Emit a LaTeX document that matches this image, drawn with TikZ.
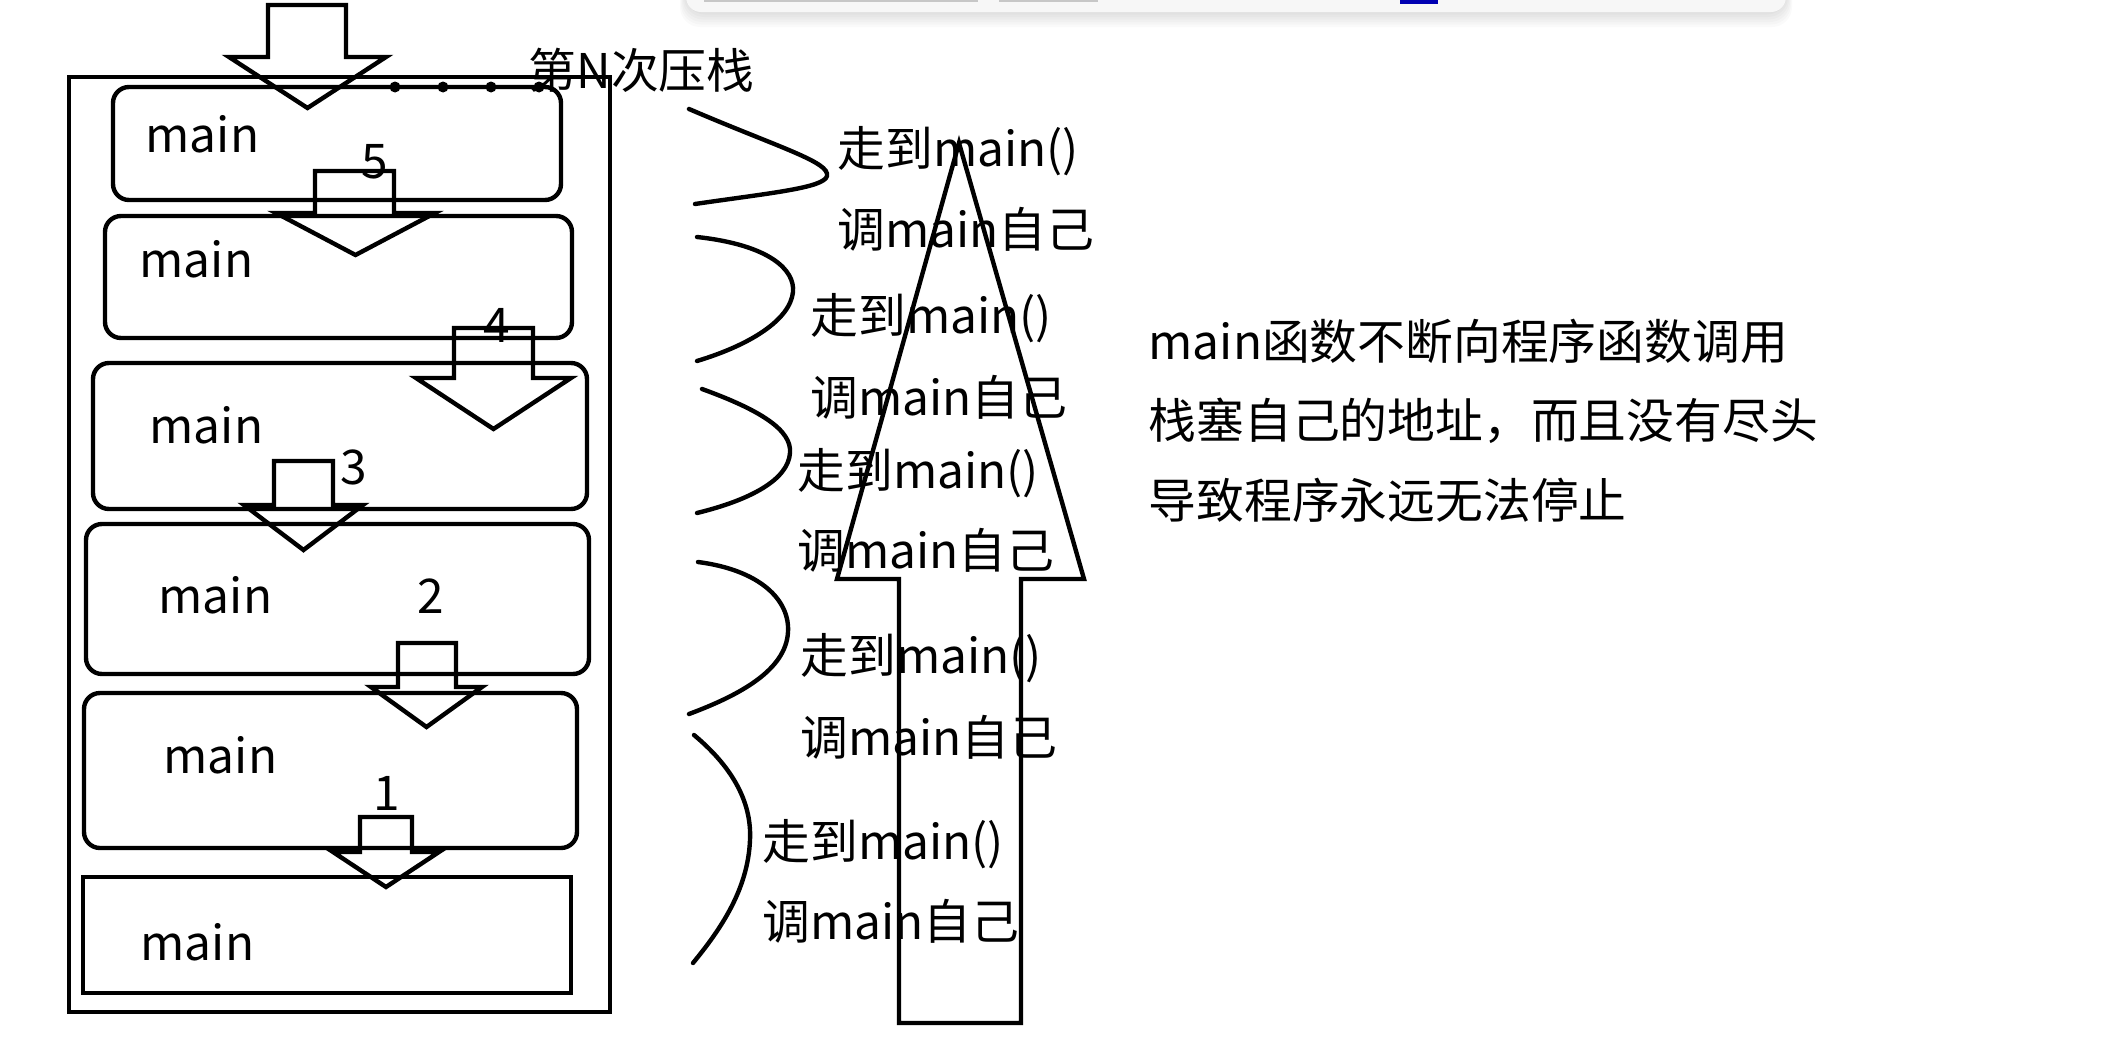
\documentclass[tikz,border=0pt]{standalone}
\usepackage{fontspec}
\newfontfamily\cjk{Noto Sans CJK SC}
\usetikzlibrary{positioning,fit}

\begin{document}
\begin{tikzpicture}[x=0.1mm, y=-0.1mm,
  every node/.style={font=\cjk\fontsize{13.6}{16}\selectfont, inner sep=0pt},
  outerbox/.style={draw, line width=1.25pt, inner sep=0pt},
  stackbox/.style={outerbox, rounded corners=1.6mm},
  blk/.style={draw, line width=1.25pt, line join=miter},
  bow/.style={draw, line width=1.25pt, line cap=round},
  lbl/.style={anchor=base west},
  num/.style={anchor=base}
]
\useasboundingbox (0,0) rectangle (2122,1044);
\fill[white] (0,0) rectangle (2122,1044);

%% --- Window bar at the top edge ------------------------------
\foreach \i in {1,...,6}
  \fill[black, opacity=0.018, rounded corners=2mm]
       (686-\i,-30) rectangle (1786+\i,12+2.5*\i);
\fill[black!3, rounded corners=1.5mm] (686,-30) rectangle (1786,12);
\fill[black!22] (704,0) rectangle (978,2.5);
\fill[black!22] (999,0) rectangle (1098,2.5);
\fill[blue!70!black] (1400,0) rectangle (1438,3.5);

%% --- Stack frame and the six main frames ---------------------
\node[outerbox, fit={(69,77) (610,1012)}] (stack) {};
\node[stackbox, fit={(113,87) (561,200)}]  (b5) {};
\node[stackbox, fit={(105,216) (572,338)}] (b4) {};
\node[stackbox, fit={(93,363) (587,509)}]  (b3) {};
\node[stackbox, fit={(86,524) (589,674)}]  (b2) {};
\node[stackbox, fit={(84,693) (577,848)}]  (b1) {};
\node[outerbox, fit={(83,877) (571,993)}]  (b0) {};

\node[lbl] (m5) at (145,152) {main};
\node[lbl] (m4) at (139,277) {main};
\node[lbl] (m3) at (149,443) {main};
\node[lbl] (m2) at (158,613) {main};
\node[lbl] (m1) at (163,773) {main};
\node[lbl] (m0) at (140,960) {main};

%% --- Push arrows between the frames --------------------------
% stem left/right, head left/right, stem top, shoulder, tip
\foreach \sl/\sr/\hl/\hr/\st/\sh/\tp in {
    268/346/229/386/5/57/108,
    315/394/276/435/171/213/255,
    454/533/416/571/328/378/429,
    274/333/244/363/461/505/550,
    398/456/371/482/643/687/727,
    360/412/333/439/817/852/887}
  \draw[blk] (\sl,\st) -- (\sr,\st) -- (\sr,\sh) -- (\hr,\sh)
       -- ({(\hl+\hr)/2},\tp) -- (\hl,\sh) -- (\sl,\sh) -- cycle;

\node[num] (n5) at (375,178) {5};
\node[num] (n4) at (497,342) {4};
\node[num] (n3) at (354,484) {3};
\node[num] (n2) at (431,613) {2};
\node[num] (n1) at (387,810) {1};

% dots up to the N-th push
\foreach \x in {395,443,491,539}
  \fill (\x,87) circle (0.55mm);
\node[anchor=west] (pushN) at (528,70) {第N次压栈};

%% --- Return path: one bow for every call ---------------------
\draw[bow] (689,109) .. controls (780,148) and (830,162) .. (827,176)
           .. controls (824,188) and (770,193) .. (695,204);
\draw[bow] (697,237) .. controls (770,245) and (795,270) .. (793,292)
           .. controls (790,320) and (750,345) .. (697,361);
\draw[bow] (702,389) .. controls (760,410) and (792,430) .. (790,453)
           .. controls (788,480) and (750,500) .. (697,513);
\draw[bow] (698,562) .. controls (760,570) and (790,600) .. (788,632)
           .. controls (786,670) and (740,695) .. (689,714);
\draw[bow] (694,735) .. controls (730,765) and (752,800) .. (750,840)
           .. controls (748,890) and (720,930) .. (693,963);

\node[lbl] (go1)   at (837,166) {走到main()};
\node[lbl] (call1) at (837,247) {调main自己};
\node[lbl] (go2)   at (810,333) {走到main()};
\node[lbl] (call2) at (810,415) {调main自己};
\node[lbl] (go3)   at (797,488) {走到main()};
\node[lbl] (call3) at (797,568) {调main自己};
\node[lbl] (go4)   at (800,673) {走到main()};
\node[lbl] (call4) at (800,755) {调main自己};
\node[lbl] (go5)   at (762,859) {走到main()};
\node[lbl] (call5) at (762,939) {调main自己};

%% --- Big upward arrow ----------------------------------------
\draw[blk] (899,1023) -- (899,579) -- (837,579) -- (959,143)
      -- (1084,579) -- (1021,579) -- (1021,1023) -- cycle;

%% --- Note on the right ---------------------------------------
\node[anchor=north west, align=left,
      font=\cjk\fontsize{13.6}{22.7}\selectfont] (note) at (1148,318)
     {main函数不断向程序函数调用\\栈塞自己的地址，而且没有尽头\\导致程序永远无法停止};

\end{tikzpicture}
\end{document}
